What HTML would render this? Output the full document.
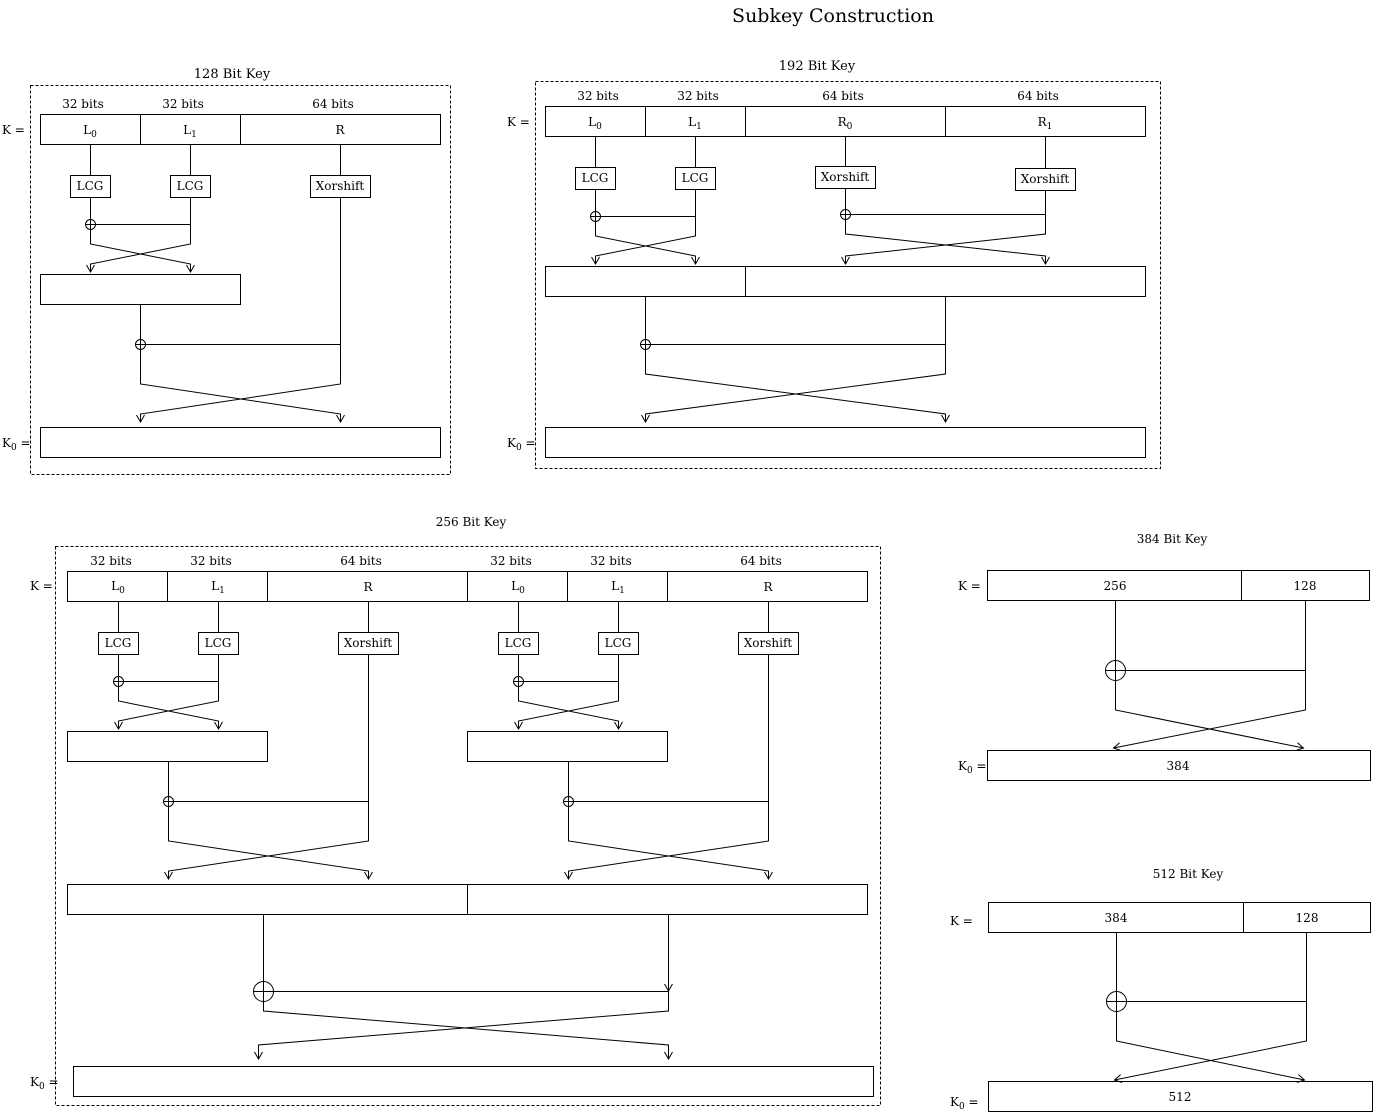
<!DOCTYPE html>
<html><head><meta charset="utf-8"><style>
html,body{margin:0;padding:0;background:#fff}
svg{display:block}
text{font-family:"DejaVu Serif","Liberation Serif",serif;font-size:12px;fill:#000}
</style></head><body>
<svg width="1373" height="1112" viewBox="0 0 1373 1112" xmlns="http://www.w3.org/2000/svg">
<defs>
<marker id="a" markerUnits="userSpaceOnUse" markerWidth="1" markerHeight="1" orient="auto" overflow="visible" refX="0" refY="0">
<path d="M-7,-4 L0,0 L-7,4" fill="none" stroke="#000" stroke-width="1"/>
</marker>
</defs>
<g fill="none" stroke="#000" stroke-width="1">
<!-- ===== 128 ===== -->
<rect x="30.5" y="85.5" width="420" height="389" stroke-dasharray="3,2"/>
<rect x="40.5" y="114.5" width="400" height="30"/>
<path d="M140.5 114.5V144.5M240.5 114.5V144.5"/>
<path d="M90.5 144V175M190.5 144V175M340.5 144V175"/>
<rect x="70.5" y="175.5" width="40" height="22"/>
<rect x="170.5" y="175.5" width="40" height="22"/>
<rect x="310.5" y="175.5" width="60" height="22"/>
<circle cx="90.5" cy="224.5" r="5"/><path d="M85.5 224.5H95.5M90.5 219.5V229.5M95.5 224.5H190.5"/>
<path d="M90.5 197V244L190.5 264V272" marker-end="url(#a)"/>
<path d="M190.5 197V244L90.5 264V272" marker-end="url(#a)"/>
<rect x="40.5" y="274.5" width="200" height="30"/>
<circle cx="140.5" cy="344.5" r="5"/><path d="M135.5 344.5H145.5M140.5 339.5V349.5M145.5 344.5H340.5"/>
<path d="M140.5 304V384L340.5 414V422" marker-end="url(#a)"/>
<path d="M340.5 197V384L140.5 414V422" marker-end="url(#a)"/>
<rect x="40.5" y="427.5" width="400" height="30"/>

<!-- ===== 192 ===== -->
<rect x="535.5" y="81.5" width="625" height="387" stroke-dasharray="3,2"/>
<rect x="545.5" y="106.5" width="600" height="30"/>
<path d="M645.5 106.5V136.5M745.5 106.5V136.5M945.5 106.5V136.5"/>
<path d="M595.5 136V167M695.5 136V167M845.5 136V166M1045.5 136V168"/>
<rect x="575.5" y="167.5" width="40" height="22"/>
<rect x="675.5" y="167.5" width="40" height="22"/>
<rect x="815.5" y="166.5" width="60" height="22"/>
<rect x="1015.5" y="168.5" width="60" height="22"/>
<circle cx="595.5" cy="216.5" r="5"/><path d="M590.5 216.5H600.5M595.5 211.5V221.5M600.5 216.5H695.5"/>
<circle cx="845.5" cy="214.5" r="5"/><path d="M840.5 214.5H850.5M845.5 209.5V219.5M850.5 214.5H1045.5"/>
<path d="M595.5 189V236L695.5 256V264" marker-end="url(#a)"/>
<path d="M695.5 189V236L595.5 256V264" marker-end="url(#a)"/>
<path d="M845.5 188V234L1045.5 256V264" marker-end="url(#a)"/>
<path d="M1045.5 190V234L845.5 256V264" marker-end="url(#a)"/>
<rect x="545.5" y="266.5" width="600" height="30"/>
<path d="M745.5 266.5V296.5"/>
<circle cx="645.5" cy="344.5" r="5"/><path d="M640.5 344.5H650.5M645.5 339.5V349.5M650.5 344.5H945.5"/>
<path d="M645.5 296V374L945.5 414V422" marker-end="url(#a)"/>
<path d="M945.5 296V374L645.5 414V422" marker-end="url(#a)"/>
<rect x="545.5" y="427.5" width="600" height="30"/>

<!-- ===== 256 ===== -->
<rect x="55.5" y="546.5" width="825" height="559" stroke-dasharray="3,2"/>
<rect x="67.5" y="571.5" width="800" height="30"/>
<path d="M167.5 571.5V601.5M267.5 571.5V601.5M467.5 571.5V601.5M567.5 571.5V601.5M667.5 571.5V601.5"/>
<path d="M118.5 601V632M218.5 601V632M368.5 601V632M518.5 601V632M618.5 601V632M768.5 601V632"/>
<rect x="98.5" y="632.5" width="40" height="22"/>
<rect x="198.5" y="632.5" width="40" height="22"/>
<rect x="338.5" y="632.5" width="60" height="22"/>
<rect x="498.5" y="632.5" width="40" height="22"/>
<rect x="598.5" y="632.5" width="40" height="22"/>
<rect x="738.5" y="632.5" width="60" height="22"/>
<circle cx="118.5" cy="681.5" r="5"/><path d="M113.5 681.5H123.5M118.5 676.5V686.5M123.5 681.5H218.5"/>
<circle cx="518.5" cy="681.5" r="5"/><path d="M513.5 681.5H523.5M518.5 676.5V686.5M523.5 681.5H618.5"/>
<path d="M118.5 654V701L218.5 721V729" marker-end="url(#a)"/>
<path d="M218.5 654V701L118.5 721V729" marker-end="url(#a)"/>
<path d="M518.5 654V701L618.5 721V729" marker-end="url(#a)"/>
<path d="M618.5 654V701L518.5 721V729" marker-end="url(#a)"/>
<rect x="67.5" y="731.5" width="200" height="30"/>
<rect x="467.5" y="731.5" width="200" height="30"/>
<circle cx="168.5" cy="801.5" r="5"/><path d="M163.5 801.5H173.5M168.5 796.5V806.5M173.5 801.5H368.5"/>
<circle cx="568.5" cy="801.5" r="5"/><path d="M563.5 801.5H573.5M568.5 796.5V806.5M573.5 801.5H768.5"/>
<path d="M168.5 761V841L368.5 871V879" marker-end="url(#a)"/>
<path d="M368.5 654V841L168.5 871V879" marker-end="url(#a)"/>
<path d="M568.5 761V841L768.5 871V879" marker-end="url(#a)"/>
<path d="M768.5 654V841L568.5 871V879" marker-end="url(#a)"/>
<rect x="67.5" y="884.5" width="800" height="30"/>
<path d="M467.5 884.5V914.5"/>
<circle cx="263.5" cy="991.5" r="10"/><path d="M253.5 991.5H273.5M263.5 981.5V1001.5M273.5 991.5H668.5"/>
<path d="M668.5 914V991" marker-end="url(#a)"/>
<path d="M263.5 914V1011L668.5 1045V1059" marker-end="url(#a)"/>
<path d="M668.5 991V1011L258.5 1045V1059" marker-end="url(#a)"/>
<rect x="73.5" y="1066.5" width="800" height="30"/>

<!-- ===== 384 ===== -->
<rect x="987.5" y="570.5" width="382" height="30"/>
<path d="M1241.5 570.5V600.5"/>
<circle cx="1115.5" cy="670.5" r="10"/><path d="M1105.5 670.5H1125.5M1115.5 660.5V680.5M1125.5 670.5H1305.5"/>
<path d="M1115.5 600V710L1303.5 748" marker-end="url(#a)"/>
<path d="M1305.5 600V710L1113.5 748" marker-end="url(#a)"/>
<rect x="987.5" y="750.5" width="383" height="30"/>

<!-- ===== 512 ===== -->
<rect x="988.5" y="902.5" width="382" height="30"/>
<path d="M1243.5 902.5V932.5"/>
<circle cx="1116.5" cy="1001.5" r="10"/><path d="M1106.5 1001.5H1126.5M1116.5 991.5V1011.5M1126.5 1001.5H1306.5"/>
<path d="M1116.5 932V1041L1304.5 1080" marker-end="url(#a)"/>
<path d="M1306.5 932V1041L1114.5 1080" marker-end="url(#a)"/>
<rect x="988.5" y="1081.5" width="384" height="30"/>
</g>

<g text-anchor="middle">
<text x="833" y="22" style="font-size:19px">Subkey Construction</text>
<text x="232" y="78" style="font-size:13px">128 Bit Key</text>
<text x="817" y="70" style="font-size:13px">192 Bit Key</text>
<text x="471" y="526">256 Bit Key</text>
<text x="1172" y="543">384 Bit Key</text>
<text x="1188" y="878">512 Bit Key</text>

<text x="83" y="108">32 bits</text><text x="183" y="108">32 bits</text><text x="333" y="108">64 bits</text>
<text x="90" y="134">L<tspan font-size="9" dy="3">0</tspan></text>
<text x="190" y="134">L<tspan font-size="9" dy="3">1</tspan></text>
<text x="340" y="134">R</text>
<text x="90" y="190">LCG</text><text x="190" y="190">LCG</text><text x="340" y="190">Xorshift</text>

<text x="598" y="100">32 bits</text><text x="698" y="100">32 bits</text><text x="843" y="100">64 bits</text><text x="1038" y="100">64 bits</text>
<text x="595" y="126">L<tspan font-size="9" dy="3">0</tspan></text>
<text x="695" y="126">L<tspan font-size="9" dy="3">1</tspan></text>
<text x="845" y="126">R<tspan font-size="9" dy="3">0</tspan></text>
<text x="1045" y="126">R<tspan font-size="9" dy="3">1</tspan></text>
<text x="595" y="182">LCG</text><text x="695" y="182">LCG</text><text x="845" y="181">Xorshift</text><text x="1045" y="183">Xorshift</text>

<text x="111" y="565">32 bits</text><text x="211" y="565">32 bits</text><text x="361" y="565">64 bits</text>
<text x="511" y="565">32 bits</text><text x="611" y="565">32 bits</text><text x="761" y="565">64 bits</text>
<text x="118" y="590">L<tspan font-size="9" dy="3">0</tspan></text>
<text x="218" y="590">L<tspan font-size="9" dy="3">1</tspan></text>
<text x="368" y="591">R</text>
<text x="518" y="590">L<tspan font-size="9" dy="3">0</tspan></text>
<text x="618" y="590">L<tspan font-size="9" dy="3">1</tspan></text>
<text x="768" y="591">R</text>
<text x="118" y="647">LCG</text><text x="218" y="647">LCG</text><text x="368" y="647">Xorshift</text>
<text x="518" y="647">LCG</text><text x="618" y="647">LCG</text><text x="768" y="647">Xorshift</text>

<text x="1115" y="590">256</text><text x="1305" y="590">128</text><text x="1178" y="770">384</text>
<text x="1116" y="922">384</text><text x="1307" y="922">128</text><text x="1180" y="1101">512</text>
</g>
<g>
<text x="2" y="134">K =</text>
<text x="2" y="447">K<tspan font-size="9" dy="3">0</tspan><tspan dy="-3"> =</tspan></text>
<text x="507" y="126">K =</text>
<text x="507" y="447">K<tspan font-size="9" dy="3">0</tspan><tspan dy="-3"> =</tspan></text>
<text x="30" y="590">K =</text>
<text x="30" y="1086">K<tspan font-size="9" dy="3">0</tspan><tspan dy="-3"> =</tspan></text>
<text x="958" y="590">K =</text>
<text x="958" y="770">K<tspan font-size="9" dy="3">0</tspan><tspan dy="-3"> =</tspan></text>
<text x="950" y="925">K =</text>
<text x="950" y="1106">K<tspan font-size="9" dy="3">0</tspan><tspan dy="-3"> =</tspan></text>
</g>
</svg>
</body></html>
